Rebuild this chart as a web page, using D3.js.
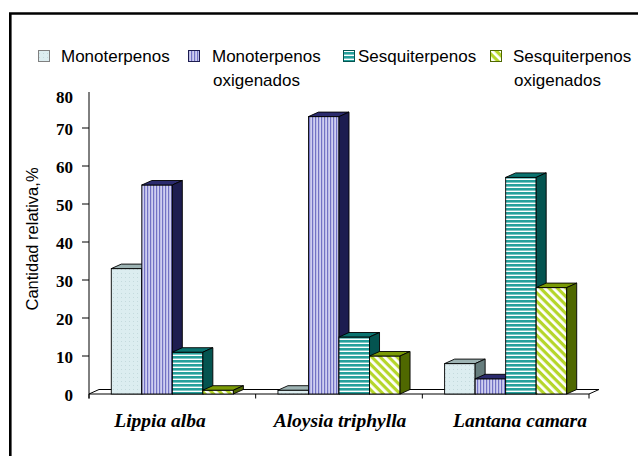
<!DOCTYPE html>
<html>
<head>
<meta charset="utf-8">
<script src="https://cdn.jsdelivr.net/npm/d3@7/dist/d3.min.js"></script>
<style>
  html, body { margin: 0; padding: 0; background: #fff; }
  svg { display: block; }
</style>
</head>
<body>
<svg id="chart" width="638" height="456"></svg>
<script>
// Relative amount (%) of each terpene class in three essential oils
const categories = ["Lippia alba", "Aloysia triphylla", "Lantana camara"];
const series = ["Monoterpenos", "Monoterpenos oxigenados", "Sesquiterpenos", "Sesquiterpenos oxigenados"];
const monoterpenos = [33, 1, 8];
const monoterpenosOxigenados = [55, 73, 4];
const sesquiterpenos = [11, 15, 57];
const sesquiterpenosOxigenados = [1, 10, 28];
const yTicks = [0, 10, 20, 30, 40, 50, 60, 70, 80];
const yTitle = "Cantidad relativa,%";

const values = [monoterpenos, monoterpenosOxigenados, sesquiterpenos, sesquiterpenosOxigenados];

const svg = d3.select("#chart");
const W = 638, H = 456;

// plot geometry
const plotLeft = 89, plotRight = 589, plotBase = 394, plotTop = 90;
const dx = 10, dy = -4.5;   // depth offset of the 3-D columns

const y = d3.scaleLinear().domain([0, 80]).range([plotBase, plotTop]);
const x0 = d3.scaleBand().domain(categories).range([plotLeft, plotRight]);
const x1 = d3.scaleBand().domain(series).range([0, x0.bandwidth()]).paddingInner(0).paddingOuter(0.73);
const xLabel = d3.scaleBand().domain(categories).range([70, 610]);

// fills: front-face patterns plus darker top and side shades
const defs = svg.append("defs");

const pMono = defs.append("pattern").attr("id", "p0").attr("patternUnits", "userSpaceOnUse")
  .attr("width", 4).attr("height", 4);
pMono.append("rect").attr("width", 4).attr("height", 4).attr("fill", "#dcedf0");
pMono.append("rect").attr("x", 1).attr("y", 1).attr("width", 1).attr("height", 1).attr("fill", "#c4dadd");

const pMonoOx = defs.append("pattern").attr("id", "p1").attr("patternUnits", "userSpaceOnUse")
  .attr("width", 3).attr("height", 3);
pMonoOx.append("rect").attr("width", 3).attr("height", 3).attr("fill", "#cfcff0");
pMonoOx.append("rect").attr("x", 0).attr("width", 1.2).attr("height", 3).attr("fill", "#7272c4");

const pSesq = defs.append("pattern").attr("id", "p2").attr("patternUnits", "userSpaceOnUse")
  .attr("width", 4).attr("height", 4);
pSesq.append("rect").attr("width", 4).attr("height", 4).attr("fill", "#ffffff");
pSesq.append("rect").attr("y", 0).attr("width", 4).attr("height", 2.6).attr("fill", "#27a09c");

const pSesqOx = defs.append("pattern").attr("id", "p3").attr("patternUnits", "userSpaceOnUse")
  .attr("width", 6).attr("height", 6).attr("patternTransform", "rotate(45)");
pSesqOx.append("rect").attr("width", 6).attr("height", 6).attr("fill", "#ffffff");
pSesqOx.append("rect").attr("width", 6).attr("height", 3.2).attr("fill", "#b5d62a");

const frontFill = ["url(#p0)", "url(#p1)", "url(#p2)", "url(#p3)"];
const topFill = ["#9db3b3", "#2b2b6e", "#0a7370", "#7a9a06"];
const sideFill = ["#667d7d", "#1d1d50", "#045450", "#4f6800"];
const swatchBorder = ["#808080", "#1d1d50", "#045450", "#4f6800"];

// outer frame
svg.append("path")
  .attr("d", `M10.3,${H} V13.5 H${W}`)
  .attr("fill", "none").attr("stroke", "#000").attr("stroke-width", 2.6);

// floor
svg.append("path")
  .attr("d", `M${plotLeft},${plotBase} L${plotLeft + dx},${plotBase + dy} L${plotRight + dx},${plotBase + dy} L${plotRight},${plotBase} Z`)
  .attr("fill", "#fff").attr("stroke", "#000").attr("stroke-width", 1);

// category tick marks
svg.append("g").selectAll("line")
  .data(categories.map(c => x0(c)).concat([plotRight]))
  .join("line")
  .attr("x1", d => d).attr("x2", d => d)
  .attr("y1", plotBase).attr("y2", plotBase + 4.5)
  .attr("stroke", "#000").attr("stroke-width", 1);

// y axis
svg.append("line")
  .attr("x1", plotLeft).attr("x2", plotLeft).attr("y1", y(80) + 2).attr("y2", plotBase + 4.5)
  .attr("stroke", "#000").attr("stroke-width", 1);

svg.append("g").selectAll("line")
  .data(yTicks.filter(v => v > 0 && v < 80))
  .join("line")
  .attr("x1", plotLeft - 7).attr("x2", plotLeft)
  .attr("y1", d => y(d)).attr("y2", d => y(d))
  .attr("stroke", "#000").attr("stroke-width", 1);

svg.append("g").selectAll("text")
  .data(yTicks)
  .join("text")
  .attr("x", 73)
  .attr("y", d => Math.max(y(d) + 1, 97))
  .attr("dy", "0.35em")
  .attr("text-anchor", "end")
  .attr("font-family", "'Liberation Serif', 'Times New Roman', serif")
  .attr("font-weight", "bold")
  .attr("font-size", 17)
  .text(d => d);

svg.append("text")
  .attr("transform", `translate(38,239) rotate(-90)`)
  .attr("text-anchor", "middle")
  .attr("font-family", "'Liberation Sans', Arial, sans-serif")
  .attr("font-size", 16.5)
  .text(yTitle);

// 3-D columns, drawn left to right so each front face covers its neighbour's side
const bars = [];
categories.forEach((c, ci) => {
  series.forEach((s, si) => {
    bars.push({ c, s, si, v: values[si][ci], x: x0(c) + x1(s), w: x1.bandwidth() });
  });
});

const gBars = svg.append("g");
bars.forEach(b => {
  const yt = y(b.v);
  const g = gBars.append("g");
  g.append("rect")
    .attr("x", b.x).attr("y", yt).attr("width", b.w).attr("height", plotBase - yt)
    .attr("fill", frontFill[b.si]).attr("stroke", "#000").attr("stroke-width", 0.9);
  g.append("path")
    .attr("d", `M${b.x},${yt} L${b.x + dx},${yt + dy} L${b.x + b.w + dx},${yt + dy} L${b.x + b.w},${yt} Z`)
    .attr("fill", topFill[b.si]).attr("stroke", "#000").attr("stroke-width", 0.9);
  g.append("path")
    .attr("d", `M${b.x + b.w},${yt} L${b.x + b.w + dx},${yt + dy} L${b.x + b.w + dx},${plotBase + dy} L${b.x + b.w},${plotBase} Z`)
    .attr("fill", sideFill[b.si]).attr("stroke", "#000").attr("stroke-width", 0.9);
});

// category labels
svg.append("g").selectAll("text")
  .data(categories)
  .join("text")
  .attr("x", d => xLabel(d) + xLabel.bandwidth() / 2)
  .attr("y", 427)
  .attr("text-anchor", "middle")
  .attr("font-family", "'Liberation Serif', 'Times New Roman', serif")
  .attr("font-weight", "bold")
  .attr("font-style", "italic")
  .attr("font-size", 19.5)
  .text(d => d);

// legend
const legendX = [38, 188, 343, 490];
const legendTextGap = [23, 24, 15, 23];
const legend = svg.append("g");
series.forEach((s, i) => {
  const g = legend.append("g").attr("transform", `translate(${legendX[i]},0)`);
  g.append("rect")
    .attr("x", 0.5).attr("y", 50.5).attr("width", 11).attr("height", 11)
    .attr("fill", frontFill[i]).attr("stroke", swatchBorder[i]).attr("stroke-width", 1);
  const t = g.append("text")
    .attr("x", legendTextGap[i]).attr("y", 62)
    .attr("font-family", "'Liberation Sans', Arial, sans-serif")
    .attr("font-size", 17);
  s.split(" ").forEach((word, k) => {
    t.append("tspan").attr("x", legendTextGap[i] + (k > 0 ? 1 : 0)).attr("dy", k === 0 ? 0 : 24).text(word);
  });
});
</script>
</body>
</html>
